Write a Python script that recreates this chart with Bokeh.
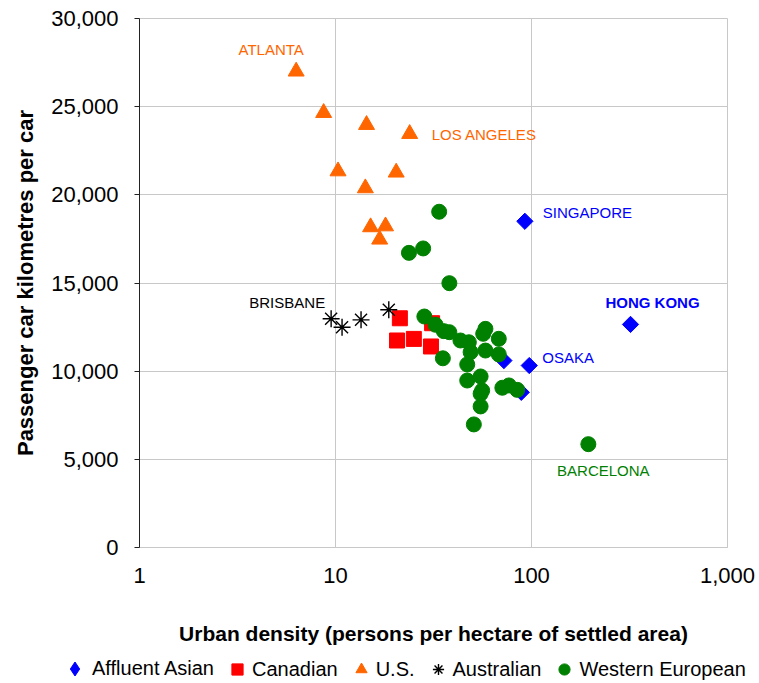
import numpy as np
from bokeh.plotting import figure
from bokeh.layouts import column
from bokeh.models import (Range1d, FixedTicker, NumeralTickFormatter, Legend,
                          LegendItem, Label, ColumnDataSource)
from bokeh.embed import file_html
from bokeh.resources import INLINE

# ---------------- data ----------------
asian_x = [92.5, 320, 97.4, 72.3, 88.7]
asian_y = [18500, 12650, 10320, 10600, 8800]

canadian_x = [21.3, 20.6, 25.1, 30.7, 31.1]
canadian_y = [13000, 11740, 11830, 11400, 12720]

us_x = [6.3, 8.7, 14.4, 23.9, 10.3, 20.4, 14.2, 15.1, 18.0, 16.8]
us_y = [27000, 24650, 23970, 23460, 21340, 21270, 20380, 18170, 18220, 17470]

aus_x = [9.5, 10.8, 13.5, 18.7]
aus_y = [12970, 12490, 12910, 13480]

eur_x = [33.8, 23.7, 28.0, 38.1, 195, 28.4, 32.4, 35.7, 38.1, 43.4,
         47.9, 48.9, 47.0, 58.2, 56.7, 68.1, 58.2, 68.1, 35.3, 47.0,
         55.0, 56.0, 55.0, 55.0, 50.8, 71.0, 76.7, 84.6]
eur_y = [19040, 16710, 16960, 14990, 5860, 13100, 12630, 12270, 12210, 11740,
         11640, 11080, 10380, 12400, 12120, 11835, 11170, 10950, 10730, 9470,
         9700, 8900, 8720, 8000, 6980, 9060, 9190, 8940]

series_names = ["Affluent Asian", "Canadian", "U.S.", "Australian", "Western European"]

x_ticks = [1, 10, 100, 1000]
y_ticks = [0, 5000, 10000, 15000, 20000, 25000, 30000]

# city labels: (text, series, index into that series)
city_names = ["ATLANTA", "LOS ANGELES", "SINGAPORE", "HONG KONG", "OSAKA", "BARCELONA", "BRISBANE"]
city_series = ["us", "us", "asian", "asian", "asian", "eur", "aus"]
city_index = [0, 3, 0, 1, 2, 4, 0]

# ---------------- styles ----------------
FONT = "Liberation Sans"
BLUE, RED, ORANGE, BLACK, GREEN = "#0000ff", "#ff0000", "#ff6600", "#000000", "#008000"
GRID = "#c8c8c8"

W, H_MAIN, H_LEG = 759, 649, 34
p = figure(width=W, height=H_MAIN, output_backend="svg", toolbar_location=None,
           x_axis_type="log",
           x_range=Range1d(x_ticks[0], x_ticks[-1]),
           y_range=Range1d(y_ticks[0], y_ticks[-1]),
           min_border_left=139, min_border_right=W - 139 - 588,
           min_border_top=18, min_border_bottom=H_MAIN - 18 - 529)
p.frame_align = False
p.background_fill_color = "white"
p.border_fill_color = "white"
p.outline_line_color = GRID

# axes
p.xaxis.ticker = FixedTicker(ticks=x_ticks)
p.yaxis.ticker = FixedTicker(ticks=y_ticks)
p.xaxis.formatter = NumeralTickFormatter(format="0,0")
p.yaxis.formatter = NumeralTickFormatter(format="0,0")
p.xgrid.grid_line_color = GRID
p.ygrid.grid_line_color = GRID
p.xgrid.ticker = FixedTicker(ticks=x_ticks)
p.ygrid.ticker = FixedTicker(ticks=y_ticks)

for ax in (p.xaxis[0], p.yaxis[0]):
    ax.major_label_text_font = FONT
    ax.major_label_text_font_size = "22px"
    ax.major_label_text_color = "black"
    ax.minor_tick_line_color = None
    ax.axis_label_text_font = FONT
    ax.axis_label_text_font_style = "bold"
    ax.axis_label_text_color = "black"

xa = p.xaxis[0]
xa.axis_line_color = GRID
xa.major_tick_line_color = None
xa.major_tick_out = 0
xa.major_tick_in = 0
xa.major_label_standoff = 20
xa.axis_label = "Urban density (persons per hectare of settled area)"
xa.axis_label_text_font_size = "21px"
xa.axis_label_standoff = 36

ya = p.yaxis[0]
ya.axis_line_color = "#222222"
ya.major_tick_line_color = "#222222"
ya.major_tick_out = 5
ya.major_tick_in = 0
ya.major_label_standoff = 16
ya.axis_label = "Passenger car kilometres per car"
ya.axis_label_text_font_size = "22px"
ya.axis_label_standoff = 10

# ---------------- glyphs ----------------
src = {
    "asian": ColumnDataSource(dict(x=asian_x, y=asian_y)),
    "canadian": ColumnDataSource(dict(x=canadian_x, y=canadian_y)),
    "us": ColumnDataSource(dict(x=us_x, y=us_y)),
    "aus": ColumnDataSource(dict(x=aus_x, y=aus_y)),
    "eur": ColumnDataSource(dict(x=eur_x, y=eur_y)),
}

marker_styles = [
    ("asian", dict(marker="square", angle=np.pi / 4, size=11.5, fill_color=BLUE, line_color=BLUE)),
    ("canadian", dict(marker="square", size=15, fill_color=RED, line_color=RED)),
    ("us", dict(marker="triangle", size=16, fill_color=ORANGE, line_color=ORANGE)),
    ("aus", dict(marker="asterisk", size=17, line_color=BLACK, line_width=1.4)),
    ("eur", dict(marker="circle", size=15, fill_color=GREEN, line_color=GREEN)),
]
for key, st in marker_styles:
    p.scatter("x", "y", source=src[key], **st)

# ---------------- city labels ----------------
series_xy = {"asian": (asian_x, asian_y), "canadian": (canadian_x, canadian_y),
             "us": (us_x, us_y), "aus": (aus_x, aus_y), "eur": (eur_x, eur_y)}
label_style = {
    "ATLANTA": dict(dx=-25, dy=22, align="center", color=ORANGE, bold=False),
    "LOS ANGELES": dict(dx=22, dy=-1, align="left", color=ORANGE, bold=False),
    "SINGAPORE": dict(dx=18, dy=9, align="left", color=BLUE, bold=False),
    "HONG KONG": dict(dx=22, dy=22, align="center", color=BLUE, bold=True),
    "OSAKA": dict(dx=13, dy=8, align="left", color=BLUE, bold=False),
    "BARCELONA": dict(dx=15, dy=-26, align="center", color=GREEN, bold=False),
    "BRISBANE": dict(dx=-6, dy=16, align="right", color=BLACK, bold=False),
}
for name, ser, idx in zip(city_names, city_series, city_index):
    xs, ys = series_xy[ser]
    st = label_style[name]
    p.add_layout(Label(x=xs[idx], y=ys[idx], text=name,
                       x_offset=st["dx"], y_offset=st["dy"],
                       text_align=st["align"], text_baseline="middle",
                       text_font=FONT, text_font_size="15px",
                       text_font_style="bold" if st["bold"] else "normal",
                       text_color=st["color"]))

# ---------------- legend strip (separate canvas below the chart) ----------------
pl = figure(width=W, height=H_LEG, output_backend="svg", toolbar_location=None,
            x_range=Range1d(0, 1), y_range=Range1d(0, 1),
            x_axis_location=None, y_axis_location=None,
            min_border_left=0, min_border_right=0, min_border_top=0, min_border_bottom=0)
pl.frame_align = False
pl.outline_line_color = None
pl.xgrid.visible = False
pl.ygrid.visible = False
pl.background_fill_color = "white"
pl.border_fill_color = "white"

legend_styles = [
    dict(marker="diamond", fill_color=BLUE, line_color=BLUE),
    dict(marker="square", fill_color=RED, line_color=RED),
    dict(marker="triangle", fill_color=ORANGE, line_color=ORANGE),
    dict(marker="asterisk", line_color=BLACK, line_width=1.4),
    dict(marker="circle", fill_color=GREEN, line_color=GREEN),
]
items = []
for name, (key, _), st in zip(series_names, marker_styles, legend_styles):
    r = pl.scatter("x", "y", source=src[key], size=12, **st)
    items.append(LegendItem(label=name, renderers=[r]))


def make_legend(its, loc, glyph):
    lg = Legend(items=its, orientation="horizontal", location=loc)
    lg.glyph_width = glyph[0]
    lg.glyph_height = glyph[1]
    lg.label_standoff = 0
    lg.spacing = 8
    lg.padding = 0
    lg.margin = 0
    lg.border_line_color = None
    lg.background_fill_alpha = 0
    lg.label_text_font = FONT
    lg.label_text_font_size = "20px"
    lg.label_text_color = "black"
    lg.label_height = 24
    return lg


pl.add_layout(make_legend(items[:1], (57, -3), (35, 35)), "center")
pl.add_layout(make_legend(items[1:], (222, 0), (30, 28)), "center")

layout = column(p, pl, spacing=0)
open("out.html", "w").write(file_html(layout, INLINE))
